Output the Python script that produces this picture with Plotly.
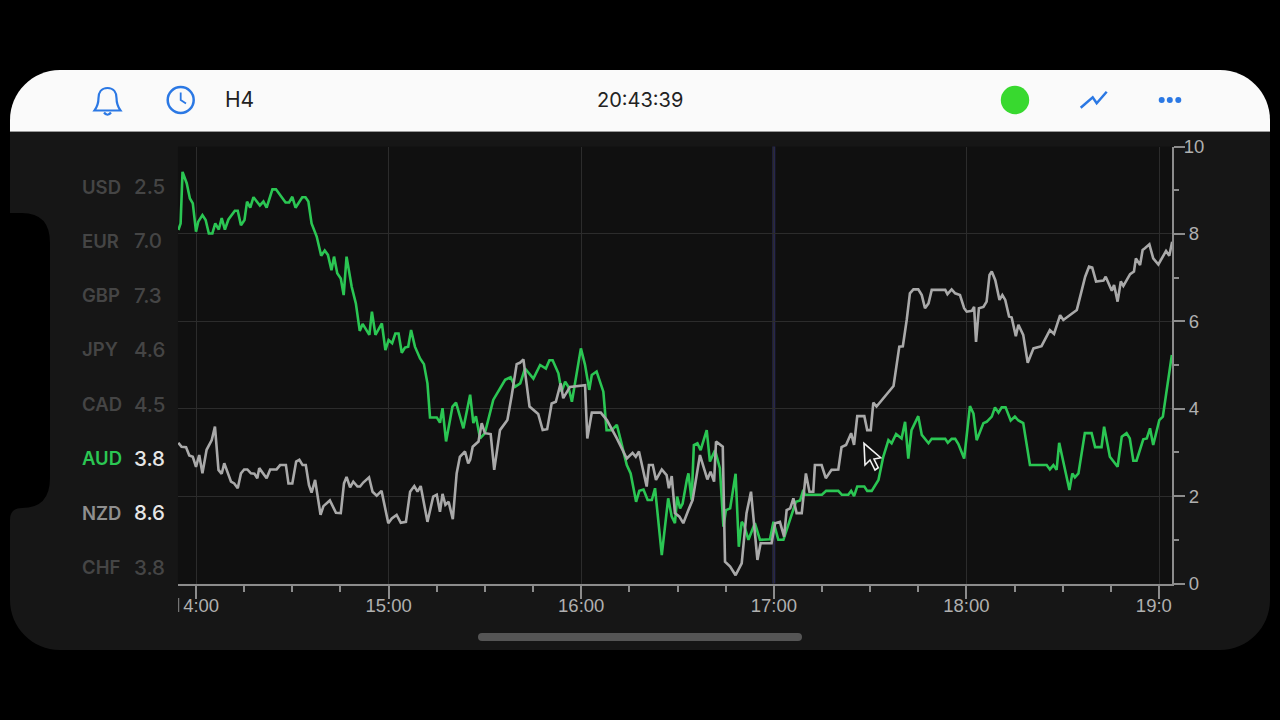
import plotly.graph_objects as go

# ---- data (x = minutes after 14:00, y = strength index) ----
AUD_MIN = [-5.5,-4.8,-4.2,-2.9,-1.9,-1.0,0,0.7,2.0,3.0,4.0,5.1,6.0,7.1,8.0,9.0,10.1,12.1,13.0,14.0,15.1,15.9,16.9,17.9,19.9,21.0,22.0,23.8,24.9,27.9,29.0,30.0,31.0,33.1,34.1,35.0,36.0,37.6,39.0,40.1,41.1,42.2,43.0,44.0,45.1,46.0,46.9,48.5,49.8,51.0,51.9,54.0,54.8,55.9,57.9,59.0,60.0,61.1,62.1,63.1,64.1,65.1,66.1,67.0,68.2,69.8,
           71.0,72.1,72.9,75.0,76.0,76.8,77.9,79.9,81.0,83.3,85.4,
           86.4,87.2,88.5,90.0,92.6,96.3,98.0,99.4,101.0,102.5,104.1,105.1,107.2,109.0,110.1,111.1,112.9,113.9,115.0,116.0,117.1,119.9,121.2,122.5,123.3,124.8,126.9,127.9,129.5,131.1,132.3,134.2,135.4,137.1,138.1,139.4,140.7,142.0,143.0,145.1,147.1,148.2,149.2,149.9,150.8,151.6,152.9,153.4,154.4,155.1,156.2,157.2,159.1,160.1,161.7,163.2,164.3,165.1,166.4,168.1,169.1,170.0,170.7,172.1,174.1,175.7,178.8,179.9,181.4,183.0,185.0,
           186.9,188.2,189.2,189.7,195.0,196.3,200.1,201.2,203.2,204.1,205.0,206.0,208.2,209.1,210.5,212.6,214.1,215.7,216.7,218.1,219.8,220.9,221.9,222.9,225.0,226.1,228.2,229.2,233.4,234.2,235.4,236.5,237.5,239.3,241.1,242.2,243.2,245.3,246.3,247.9,248.9,250.0,251.0,252.2,253.8,255.1,256.2,257.7,259.8,265.0,266.0,267.1,268.1,268.9,270.7,272.1,273.0,273.8,274.9,276.9,279.0,280.1,282.1,282.9,284.7,287.1,288.4,289.9,290.9,292.0,293.0,295.1,296.2,297.2,298.2,300.1,301.2,304.0]
AUD_VAL = [8.09,8.24,9.42,9.16,8.81,8.70,8.05,8.28,8.43,8.32,8.01,8.01,8.24,8.10,8.36,8.10,8.33,8.53,8.53,8.20,8.32,8.74,8.60,8.84,8.65,8.74,8.60,9.02,9.02,8.72,8.72,8.85,8.60,8.84,8.84,8.74,8.24,7.94,7.50,7.62,7.52,7.17,7.48,7.10,6.98,6.60,7.48,6.79,6.41,5.78,5.94,5.69,6.22,5.69,5.95,5.34,5.57,5.50,5.72,5.72,5.28,5.40,5.42,5.80,5.42,5.15,
           5.02,4.58,3.80,3.80,3.68,4.01,3.25,4.05,4.14,3.55,4.32,
           3.67,3.83,3.32,3.44,4.20,4.66,4.72,4.50,4.58,4.92,4.77,4.69,5.00,4.92,5.11,5.11,4.81,4.39,4.62,4.50,4.16,5.38,5.00,4.43,4.77,4.85,4.39,3.51,3.51,3.63,3.28,2.71,2.52,1.87,2.12,2.15,1.91,1.91,2.18,0.65,1.95,1.53,1.38,1.99,1.72,1.83,2.37,2.52,1.91,3.17,3.21,3.05,3.51,2.79,3.05,2.64,1.30,1.68,1.72,2.51,0.84,1.41,1.34,1.00,1.38,1.00,1.01,1.41,1.00,1.00,1.45,
           1.87,1.90,2.14,2.03,2.03,2.12,2.12,2.03,2.03,2.12,2.00,2.22,2.22,2.12,2.12,2.37,2.90,3.28,3.21,3.42,3.32,3.70,2.86,3.51,3.83,3.40,3.21,3.31,3.31,3.22,3.31,3.31,3.19,2.86,4.06,3.89,3.28,3.67,3.70,3.82,4.03,3.91,4.03,4.03,3.73,3.82,3.73,3.67,2.71,2.71,2.61,2.71,2.60,3.22,2.64,2.14,2.52,2.43,2.52,3.44,3.44,3.12,3.12,3.59,2.90,2.67,3.36,3.44,3.32,2.81,2.81,3.30,3.32,3.55,3.17,3.74,3.82,5.23]

NZD_MIN = [-5.5,-4.5,-3.1,-2.1,-1.0,0,1.0,2.0,3.3,4.9,5.9,7.0,8.0,8.8,10.9,11.9,13.0,14.0,15.0,16.0,17.1,18.2,19.1,19.7,22.0,23.1,25.1,26.2,28.0,28.8,30.0,31.2,32.2,33.2,34.2,35.2,36.0,37.1,38.8,39.7,41.7,43.6,45.1,46.1,46.9,48.0,49.0,50.3,51.1,52.1,53.9,55.0,56.3,57.8,59.9,61.0,62.5,63.8,65.4,66.7,68.0,69.0,70.0,72.1,73.9,75.0,76.0,76.8,77.7,78.7,80.0,81.2,82.2,83.8,84.8,
           85.4,86.2,88.0,89.0,90.0,91.8,92.9,94.7,97.0,98.3,99.9,100.9,102.0,103.9,105.3,106.6,108.0,109.4,110.8,112.1,113.6,114.4,116.5,121.2,121.9,123.3,126.1,128.0,131.1,134.2,136.0,137.0,138.0,140.4,141.1,142.3,143.3,145.1,146.6,147.3,148.2,149.2,150.6,151.8,153.4,154.7,157.0,159.3,160.3,161.4,162.0,164.1,164.8,166.4,168.1,170.0,171.5,172.9,174.9,175.9,179.3,180.4,181.9,183.2,184.0,
           185.1,186.1,187.1,188.7,190.0,191.1,192.3,192.8,194.9,196.2,198.0,200.1,201.1,202.5,204.1,205.0,206.0,208.2,209.1,210.2,211.0,212.0,217.3,219.1,220.2,221.4,222.4,223.5,225.0,226.1,227.1,228.2,229.2,233.4,234.1,235.4,236.5,238.0,239.3,240.1,241.7,242.4,243.0,243.9,245.3,246.3,247.2,247.9,249.0,250.3,251.2,252.1,253.3,254.1,255.4,256.2,257.7,259.1,260.9,263.4,266.0,267.3,269.2,270.2,272.8,274.4,277.0,278.2,279.2,280.4,282.7,283.4,285.3,286.0,287.1,288.1,288.9,291.0,292.2,292.8,294.1,294.9,295.6,297.0,298.2,299.8,302.2,303.2,304.1]
NZD_VAL = [3.22,3.13,3.12,2.93,2.90,2.67,2.94,2.52,3.06,3.28,3.59,2.60,2.51,2.75,2.33,2.29,2.18,2.52,2.61,2.61,2.52,2.51,2.41,2.64,2.41,2.61,2.61,2.71,2.71,2.29,2.29,2.79,2.83,2.71,2.71,2.25,2.08,2.37,1.57,1.77,1.90,1.62,1.61,2.29,2.44,2.20,2.33,2.22,2.22,2.31,2.43,2.10,2.01,2.12,1.38,1.49,1.57,1.39,1.41,2.10,2.23,2.10,2.23,1.41,1.99,2.03,1.64,2.05,1.80,1.87,1.47,2.52,2.90,3.02,2.75,
           2.83,3.13,3.25,3.67,3.44,3.42,2.60,3.51,3.74,4.28,5.02,5.05,5.13,4.05,3.97,3.88,3.51,3.53,4.12,4.16,4.58,4.24,4.50,4.54,3.32,3.91,3.91,3.74,3.32,2.86,2.99,2.90,3.02,2.22,2.71,2.71,2.37,2.61,2.48,2.18,2.46,1.61,1.53,1.38,1.68,1.91,2.94,2.38,2.56,2.33,3.25,3.13,0.50,0.39,0.19,0.46,1.61,2.10,0.54,0.92,0.92,1.38,1.41,1.07,1.68,
           1.72,1.95,1.61,1.61,2.52,2.10,2.10,2.71,2.71,2.41,2.60,2.61,3.12,3.17,3.44,3.17,3.83,3.83,3.51,3.51,4.14,4.05,4.52,5.42,5.43,6.03,6.64,6.73,6.73,6.60,6.30,6.41,6.72,6.72,6.62,6.73,6.64,6.60,6.30,6.22,6.24,6.33,5.53,6.30,6.33,6.45,7.06,7.14,6.94,6.49,6.60,6.49,6.11,6.09,5.66,5.92,5.69,5.05,5.38,5.43,5.80,5.71,6.14,6.03,6.18,6.26,7.02,7.25,7.23,6.91,6.93,7.02,6.70,6.83,6.45,6.91,6.81,7.08,7.14,7.44,7.29,7.63,7.67,7.76,7.44,7.30,7.61,7.50,7.82]

CURRENCIES = ["USD", "EUR", "GBP", "JPY", "CAD", "AUD", "NZD", "CHF"]
READINGS = ["2.5", "7.0", "7.3", "4.6", "4.5", "3.8", "8.6", "3.8"]
NAME_COLORS = ["#454545", "#454545", "#454545", "#454545", "#454545", "#2bc653", "#8f8f8f", "#454545"]
READ_COLORS = ["#454545", "#454545", "#454545", "#454545", "#454545", "#e6e6e6", "#e6e6e6", "#454545"]
ROW_Y = [186.7, 241, 295, 349.5, 404, 458, 512.5, 567]

X_MAJOR = [0, 60, 120, 180, 240, 300]
X_LABELS = ["\u00a0\u00a04:00", "15:00", "16:00", "17:00", "18:00", "19:0\u00a0\u00a0"]
X_MINOR = [15, 30, 45, 75, 90, 105, 135, 150, 165, 195, 210, 225, 255, 270, 285]
Y_MAJOR = [0, 2, 4, 6, 8, 10]
Y_LABELS = ["\u00a00", "\u00a02", "\u00a04", "\u00a06", "\u00a08", "10"]
Y_MINOR = [1, 3, 5, 7, 9]
HOUR_MARKER = 180
X_RANGE = [-5.61, 304.05]
Y_RANGE = [0, 10]

# ---- colours ----
GREEN = "#2bc653"
GRAY = "#a9a9a9"
AXIS = "#8c8c8c"
GRID = "#2c2c2c"
BLUE = "#2b78e4"
FONT = "Inter, Liberation Sans, sans-serif"
AXFONT = "Liberation Sans, Arial, sans-serif"
W, H = 1280, 720


def P(spec):
    """Turn a path written in screen pixels into paper coordinates."""
    out, is_x = [], True
    for tok in spec.split():
        if tok.isalpha():
            out.append(tok)
            is_x = True
        else:
            v = float(tok)
            out.append(f"{v / W:.5f}" if is_x else f"{1 - v / H:.5f}")
            is_x = not is_x
    return " ".join(out)


def path(spec, fill=None, line=None, lw=0, layer="above"):
    d = dict(type="path", xref="paper", yref="paper", path=P(spec), layer=layer,
             line=dict(color=line or "rgba(0,0,0,0)", width=lw))
    if fill:
        d["fillcolor"] = fill
    return d


def circle(cx, cy, r, fill=None, line=None, lw=0):
    d = dict(type="circle", xref="paper", yref="paper", layer="above",
             x0=(cx - r) / W, x1=(cx + r) / W, y0=1 - (cy + r) / H, y1=1 - (cy - r) / H,
             line=dict(color=line or "rgba(0,0,0,0)", width=lw))
    if fill:
        d["fillcolor"] = fill
    return d


shapes = [
    # phone body with sensor notch
    path("M 60 70 L 1220 70 C 1247.6 70 1270 92.4 1270 120 L 1270 600 C 1270 627.6 1247.6 650 1220 650 "
         "L 60 650 C 32.4 650 10 627.6 10 600 L 10 520 Q 10 508 22 508 Q 50 508 50 478 L 50 243 "
         "Q 50 213 22 213 L 10 213 L 10 120 C 10 92.4 32.4 70 60 70 Z", fill="#161616", layer="below"),
    # chart background
    path("M 178 146.5 L 1172 146.5 L 1172 583.5 L 178 583.5 Z", fill="#101010", layer="below"),
    # header
    path("M 60 70 L 1220 70 C 1247.6 70 1270 92.4 1270 120 L 1270 131 L 10 131 L 10 120 C 10 92.4 32.4 70 60 70 Z",
         fill="#fafafa", layer="below"),
    path("M 10 131.5 L 1270 131.5", line="#9a9a9a", lw=1),
    # bell
    path("M 107.5 88 C 101 88 98.5 93 98.5 98 C 98.5 104 97 107 94.5 110.5 L 120.5 110.5 "
         "C 118 107 116.5 104 116.5 98 C 116.5 93 114 88 107.5 88 Z", line=BLUE, lw=2.2),
    path("M 104 112.5 Q 107.5 117 111 112.5", line=BLUE, lw=2.2),
    # clock
    circle(180.7, 100, 13, line=BLUE, lw=2.5),
    path("M 180.7 92.5 L 180.7 100 L 186 103.5", line=BLUE, lw=1.8),
    # status dot
    circle(1015, 100, 14.2, fill="#38d92f"),
    # chart-type icon
    path("M 1080.7 107.7 L 1092.7 97.3 L 1096.7 103.3 L 1106.7 91.7", line=BLUE, lw=2.5),
    # more dots
    circle(1161.7, 100, 3, fill=BLUE), circle(1169.8, 100, 3, fill=BLUE), circle(1178.3, 100, 3, fill=BLUE),
    # home indicator
    path("M 482 633 L 798 633 Q 802 633 802 637 Q 802 641 798 641 L 482 641 Q 478 641 478 637 Q 478 633 482 633 Z",
         fill="#555555"),
    # clipped first digit of the first time label
    path("M 178.7 598 L 178.7 612", line="#8a8a8a", lw=1),
    # current hour marker
    dict(type="line", xref="x", yref="paper", layer="below", x0=HOUR_MARKER, x1=HOUR_MARKER,
         y0=1 - 583.5 / H, y1=1 - 146.5 / H, line=dict(color="#26264e", width=3)),
    # mouse pointer
    path("M 864 443.3 L 865 465 L 870 460 L 875 470 L 878.3 467.7 L 874 459 L 880.7 457.7 Z",
         fill="#121212", line="#f2f2f2", lw=1.6),
]

annotations = []
for name, val, nc, vc, y in zip(CURRENCIES, READINGS, NAME_COLORS, READ_COLORS, ROW_Y):
    annotations.append(dict(xref="paper", yref="paper", x=81 / W, y=1 - y / H, text=name, showarrow=False,
                            xanchor="left", yanchor="middle", xshift=-1,
                            font=dict(family=FONT, size=18.5, color=nc, weight=600)))
    annotations.append(dict(xref="paper", yref="paper", x=134 / W, y=1 - y / H, text=val, showarrow=False,
                            xanchor="left", yanchor="middle", xshift=-2,
                            font=dict(family=FONT, size=20.5, color=vc, weight=500)))
annotations.append(dict(xref="paper", yref="paper", x=225 / W, y=1 - 100 / H, text="H4", showarrow=False,
                        xanchor="left", yanchor="middle", xshift=-2, font=dict(family=FONT, size=21, color="#222222")))
annotations.append(dict(xref="paper", yref="paper", x=640 / W, y=1 - 100 / H, text="20:43:39", showarrow=False,
                        xanchor="center", yanchor="middle", font=dict(family=FONT, size=20, color="#222222")))

fig = go.Figure()
fig.add_trace(go.Scatter(x=AUD_MIN, y=AUD_VAL, mode="lines", name="AUD", line=dict(color=GREEN, width=2.6),
                         hoverinfo="skip"))
fig.add_trace(go.Scatter(x=NZD_MIN, y=NZD_VAL, mode="lines", name="NZD", line=dict(color=GRAY, width=2.6),
                         hoverinfo="skip"))

fig.update_layout(
    width=W, height=H, autosize=False, showlegend=False,
    margin=dict(l=0, r=0, t=0, b=0, pad=0),
    paper_bgcolor="#000000", plot_bgcolor="rgba(0,0,0,0)",
    shapes=shapes, annotations=annotations,
    xaxis=dict(domain=[178 / W, 1172 / W], range=X_RANGE, tickmode="array", tickvals=X_MAJOR, ticktext=X_LABELS,
               automargin=False, ticks="outside", ticklen=13, tickwidth=1.5, tickcolor=AXIS, showgrid=True,
               gridcolor=GRID, gridwidth=1, zeroline=False, showline=True, linecolor=AXIS, linewidth=2, tickangle=0,
               ticklabelstandoff=-9, tickfont=dict(family=AXFONT, size=18.5, color="#b0b0b0"),
               minor=dict(tickmode="array", tickvals=X_MINOR, ticks="outside", ticklen=6, tickwidth=1.5,
                          tickcolor=AXIS, showgrid=False)),
    yaxis=dict(domain=[1 - 583.5 / H, 1 - 146.5 / H], range=Y_RANGE, side="right", tickmode="array",
               tickvals=Y_MAJOR, ticktext=Y_LABELS, automargin=False, ticks="outside", ticklen=11, tickwidth=1.5,
               tickcolor=AXIS, showgrid=True, gridcolor=GRID, gridwidth=1, zeroline=False, showline=True,
               linecolor=AXIS, linewidth=2, ticklabelstandoff=-5,
               tickfont=dict(family=AXFONT, size=18.5, color="#b0b0b0"),
               minor=dict(tickmode="array", tickvals=Y_MINOR, ticks="outside", ticklen=5, tickwidth=1.5,
                          tickcolor=AXIS, showgrid=False)),
)

fig.write_html("out.html", config=dict(displayModeBar=False),
               post_script="document.documentElement.style.background='#000';"
                           "document.documentElement.style.overflow='hidden';"
                           "document.body.style.margin='0';document.body.style.background='#000';")
